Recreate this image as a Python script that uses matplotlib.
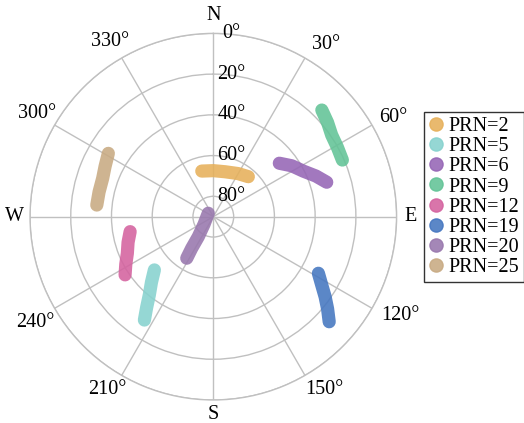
import numpy as np
import matplotlib
matplotlib.use("Agg")
import matplotlib.pyplot as plt
from matplotlib.lines import Line2D

plt.rcParams['font.family'] = ['Liberation Serif', 'DejaVu Serif']

# Satellite tracks: azimuth (deg, clockwise from N) and elevation (deg)
prn_labels = ['PRN=2', 'PRN=5', 'PRN=6', 'PRN=9', 'PRN=12', 'PRN=19', 'PRN=20', 'PRN=25']
colors = ['#E6B05A', '#86D2CE', '#9565B5', '#62C396', '#D4629F', '#4476C0', '#9877AD', '#C8AA82']

az_prn2 = [345.8, 0.0, 14.6, 29.8, 41.2]
el_prn2 = [66.9, 67.4, 67.2, 65.6, 63.9]
az_prn5 = [227.9, 223.3, 219.3, 216.3, 213.7]
el_prn5 = [51.0, 45.7, 40.4, 34.7, 29.0]
az_prn6 = [51.0, 57.0, 63.1, 68.4, 73.1]
el_prn6 = [48.3, 44.1, 40.5, 35.8, 31.8]
az_prn9 = [45.5, 50.5, 55.4, 60.8, 66.3]
el_prn9 = [15.3, 17.3, 19.4, 20.2, 20.8]
az_prn12 = [259.8, 253.3, 246.9, 241.5, 236.6]
el_prn12 = [48.5, 46.3, 44.1, 41.1, 38.1]
az_prn19 = [118.3, 122.2, 125.6, 128.9, 132.2]
el_prn19 = [31.4, 27.1, 22.5, 17.9, 13.2]
az_prn20 = [304.2, 230.7, 216.9, 214.4, 212.6]
el_prn20 = [87.0, 84.1, 77.7, 71.2, 65.8]
az_prn25 = [301.1, 294.9, 289.1, 282.2, 275.7]
el_prn25 = [29.8, 31.4, 32.5, 32.6, 32.5]

tracks = [(az_prn2, el_prn2), (az_prn5, el_prn5), (az_prn6, el_prn6), (az_prn9, el_prn9),
          (az_prn12, el_prn12), (az_prn19, el_prn19), (az_prn20, el_prn20), (az_prn25, el_prn25)]

theta_ticks = [0, 30, 60, 90, 120, 150, 180, 210, 240, 270, 300, 330]
theta_labels = ['N', '30°', '60°', 'E', '120°', '150°', 'S', '210°', '240°', 'W', '300°', '330°']
elev_ticks = [0, 20, 40, 60, 80]
elev_labels = ['0°', '20°', '40°', '60°', '80°']

# label placement (angle shift in deg, distance in radial units beyond centre)
label_shift = [0, 3.4, 1.1, 0, -2.2, -2.7, 0, 1.5, -0.7, 0, 0.4, -0.6]
label_dist = [99.0, 101.0, 100.9, 96.9, 103.6, 100.6, 96.9, 99.8, 101.8, 97.4, 100.2, 99.8]

fig = plt.figure(figsize=(5.24, 4.23), dpi=100)
ax = fig.add_axes([0.0573, 0.0544, 0.6996, 0.8667], projection='polar')
ax.set_theta_zero_location('N')
ax.set_theta_direction(-1)
ax.set_rlim(0, 90)

for (az, el), c in zip(tracks, colors):
    ax.plot(np.deg2rad(az), 90 - np.array(el), color=c, lw=9.5, alpha=0.88,
            solid_capstyle='round', zorder=3)

ax.set_xticks(np.deg2rad(theta_ticks))
ax.set_xticklabels([])
ax.set_yticks([90 - e for e in elev_ticks])
ax.set_yticklabels([])
ax.grid(True, color='#c0c0c0', lw=1.0)
ax.spines['polar'].set_color('#c0c0c0')
ax.spines['polar'].set_linewidth(1.0)

# azimuth labels placed just outside the rim
for t, lab, sh, rr in zip(theta_ticks, theta_labels, label_shift, label_dist):
    ax.text(np.deg2rad(t + sh), rr, lab, ha='center', va='center', fontsize=14.5,
            clip_on=False)

for e, lab in zip(elev_ticks, elev_labels):
    ax.annotate(lab, xy=(0, 90 - e), xytext=(13, 0), textcoords='offset points',
                ha='center', va='center', fontsize=14.5, zorder=5)

handles = [Line2D([], [], marker='o', ls='none', color=c, markersize=9.5, alpha=0.88)
           for c in colors]
leg = fig.legend(handles, prn_labels, loc='upper left', bbox_to_anchor=(0.809, 0.735),
                 bbox_transform=fig.transFigure, fontsize=14.5, frameon=True,
                 fancybox=False, edgecolor='#333333', framealpha=1,
                 borderaxespad=0, labelspacing=0.05, handlelength=0.7,
                 handletextpad=0.25, borderpad=0.25)
leg.get_frame().set_linewidth(1.0)

fig.savefig('out.png', dpi=100)
